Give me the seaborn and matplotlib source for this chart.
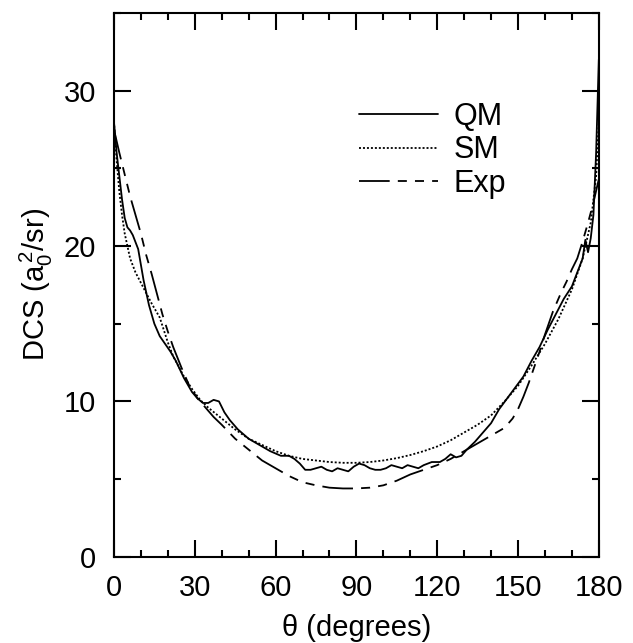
import matplotlib
matplotlib.use('Agg')
import matplotlib.pyplot as plt
import pandas as pd
import seaborn as sns

# QM (solid)
qm_theta = [0, 1, 2, 3, 4, 5, 6, 7, 9, 11, 13, 15, 17, 19, 21, 23, 26, 29, 31, 33, 35, 37, 39,
            41, 43, 46, 50, 54, 58, 62, 65, 67, 69, 71, 73, 75, 77, 79, 81, 83, 85, 87, 89, 91,
            93, 95, 97, 99, 101, 103, 105, 107, 109, 111, 113, 115, 118, 121, 123, 125, 127,
            129, 131, 134, 137, 140, 143, 146, 149, 152, 155, 158, 161, 164, 167, 170, 172,
            174, 175, 176, 177, 178, 179, 180]
qm_dcs = [28.0, 26.0, 24.5, 23.0, 21.8, 21.2, 21.0, 20.7, 19.8, 17.8, 16.2, 15.0, 14.2, 13.7,
          13.2, 12.6, 11.5, 10.6, 10.2, 9.9, 9.9, 10.1, 10.0, 9.3, 8.8, 8.2, 7.6, 7.2, 6.8, 6.5,
          6.5, 6.3, 6.0, 5.6, 5.6, 5.7, 5.8, 5.6, 5.5, 5.7, 5.6, 5.5, 5.8, 6.0, 5.9, 5.7, 5.6,
          5.6, 5.7, 5.9, 5.8, 5.7, 5.9, 5.8, 5.7, 5.9, 6.1, 6.1, 6.3, 6.6, 6.4, 6.5, 6.9, 7.4,
          8.0, 8.6, 9.5, 10.2, 10.9, 11.6, 12.6, 13.5, 14.6, 15.6, 16.6, 17.4, 18.3, 19.2, 20.4,
          19.6, 20.5, 22.0, 26.0, 32.0]

# SM (dotted)
sm_theta = [0, 1, 2, 3, 4, 6, 8, 11, 14, 17, 20, 22, 26, 29, 32, 35, 40, 45, 50, 55, 60, 65,
            70, 75, 80, 85, 90, 95, 100, 105, 110, 115, 120, 125, 130, 135, 140, 145, 150, 155,
            160, 165, 170, 174, 177, 179, 180]
sm_dcs = [28.0, 25.5, 23.5, 22.0, 20.8, 19.2, 18.3, 17.3, 16.3, 15.4, 13.8, 12.9, 11.6, 10.8,
          10.1, 9.6, 8.9, 8.2, 7.6, 7.2, 6.8, 6.5, 6.3, 6.2, 6.1, 6.05, 6.05, 6.1, 6.2, 6.35,
          6.55, 6.8, 7.1, 7.5, 8.0, 8.5, 9.1, 10.0, 11.0, 12.3, 13.7, 15.3, 17.2, 19.2, 21.5,
          24.5, 28.0]

# Exp (long-short-short dash)
exp_theta = [0, 2, 4, 6, 8, 10, 12, 14, 16, 18, 20, 22, 25, 28, 31, 34, 37, 40, 45, 50, 55,
             60, 65, 70, 75, 80, 85, 90, 95, 100, 105, 110, 115, 120, 125, 130, 135, 140, 145,
             148, 150, 152, 154, 156, 158, 160, 163, 166, 168, 170, 172, 174, 176, 178, 180]
exp_dcs = [27.5, 26.0, 24.6, 23.2, 22.0, 20.8, 19.4, 18.2, 16.9, 15.6, 14.5, 13.5, 12.2, 11.0,
           10.2, 9.6, 9.0, 8.5, 7.6, 6.9, 6.2, 5.7, 5.2, 4.8, 4.6, 4.45, 4.4, 4.4, 4.45, 4.6,
           4.9, 5.3, 5.6, 5.9, 6.3, 6.8, 7.3, 7.8, 8.3, 8.9, 9.5, 10.3, 11.2, 12.2, 13.2, 14.3,
           15.8, 17.0, 17.7, 18.5, 19.2, 20.3, 21.5, 22.8, 24.3]

sns.set_style('ticks')
plt.rcParams['font.family'] = ['Liberation Sans', 'DejaVu Sans']
plt.rcParams['mathtext.fontset'] = 'custom'
plt.rcParams['mathtext.rm'] = 'Liberation Sans'
plt.rcParams['mathtext.it'] = 'Liberation Sans:italic'
plt.rcParams['text.color'] = 'k'
plt.rcParams['axes.labelcolor'] = 'k'

fig = plt.figure(figsize=(6.33, 6.43), dpi=100)
ax = fig.add_axes([0.180, 0.134, 0.766, 0.846])

qm = pd.DataFrame({'theta': qm_theta, 'dcs': qm_dcs})
sm = pd.DataFrame({'theta': sm_theta, 'dcs': sm_dcs})
ex = pd.DataFrame({'theta': exp_theta, 'dcs': exp_dcs})

sns.lineplot(data=qm, x='theta', y='dcs', ax=ax, color='k', lw=1.3, label='QM')
sns.lineplot(data=sm, x='theta', y='dcs', ax=ax, color='k', lw=1.3,
             linestyle=(0, (1.1, 1.1)), label='SM')
sns.lineplot(data=ex, x='theta', y='dcs', ax=ax, color='k', lw=1.3,
             linestyle=(0, (17, 4.5, 5, 4.5, 5, 4.5)), label='Exp')

ax.set_xlim(0, 180)
ax.set_ylim(0, 35)
ax.set_xticks(range(0, 181, 30))
ax.set_xticks(range(0, 181, 10), minor=True)
ax.set_yticks([0, 10, 20, 30])
ax.set_yticks([5, 15, 25, 35], minor=True)
ax.tick_params(which='both', direction='in', top=True, right=True, width=1.5,
               labelsize=21, color='k', labelcolor='k')
ax.tick_params(axis='x', pad=12)
ax.tick_params(axis='y', pad=13)
ax.tick_params(which='major', length=12)
ax.tick_params(which='minor', length=5)
for s in ax.spines.values():
    s.set_linewidth(1.5)
    s.set_color('k')

ax.set_xlabel('θ (degrees)', fontsize=21, labelpad=9)
ax.set_ylabel(r'DCS (a$_0^{\,2}$/sr)', fontsize=21, labelpad=6)

ax.legend(loc='upper left', bbox_to_anchor=(0.505, 0.837), frameon=False, fontsize=22,
          handlelength=2.6, handletextpad=0.5, labelspacing=0.12,
          borderpad=0, borderaxespad=0)

fig.savefig('out.png', dpi=100)
